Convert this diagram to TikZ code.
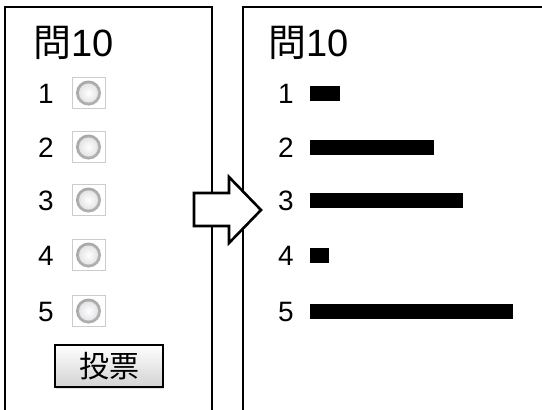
\documentclass[tikz,border=0pt]{standalone}
\usepackage{fontspec}
\setmainfont{Liberation Sans}
\newfontfamily\cjk{Noto Sans CJK JP}
\usetikzlibrary{shadows}
\begin{document}
\begin{tikzpicture}[x=1pt,y=-1pt,
  panel/.style={line width=1.8pt,line cap=butt},
  title/.style={anchor=base west,inner sep=0pt,font=\fontsize{38}{40}\selectfont},
  num/.style={anchor=base,inner sep=0pt,font=\fontsize{28}{30}\selectfont},
  radiobox/.style={draw=gray!40,fill=white,line width=0.8pt,minimum width=33pt,minimum height=31pt,inner sep=0pt},
  bar/.style={fill=black,anchor=west,inner sep=0pt,minimum height=15pt},
  votebtn/.style={draw=black,line width=1.6pt,top color=white,bottom color=gray!35,minimum width=108pt,minimum height=42pt,inner sep=0pt,
    drop shadow={opacity=0.25,shadow xshift=1pt,shadow yshift=-2pt},font=\cjk\fontsize{30}{32}\selectfont},
  bigarrow/.style={draw=black,fill=white,line width=2.6pt,line join=miter}
]
\useasboundingbox (0,0) rectangle (542,410);
% panels
\draw[panel] (5,410) -- (5,7) -- (212,7) -- (212,410);
\draw[panel] (243,410) -- (243,7) -- (542,7);
% titles
\node[title] (tl) at (33,56) {{\cjk 問}10};
\node[title] (tr) at (268,56) {{\cjk 問}10};
% left rows
\foreach \i/\y in {1/93,2/147,3/200,4/255,5/311} {
  \node[num] (ln\i) at (46,\y+10) {\i};
  \node[radiobox] (rb\i) at (88.5,\y) {};
  \shade[inner color=gray!25,outer color=gray!70] (rb\i.center) circle (12.5);
  \shade[inner color=white,outer color=blue!4!gray!20] (rb\i.center) circle (9.5);
}
% right rows
\foreach \i/\y/\w in {1/93/30,2/147/124,3/200/153,4/255/19,5/311/203} {
  \node[num] (rn\i) at (286,\y+10) {\i};
  \node[bar,minimum width=\w pt] (bar\i) at (310,\y) {};
}
% button
\node[votebtn] (vote) at (109,366) {投票};
% arrow
\draw[bigarrow] (194,193) -- (229,193) -- (229,177) -- (261,210) -- (229,243) -- (229,226) -- (194,226) -- cycle;
\end{tikzpicture}
\end{document}
